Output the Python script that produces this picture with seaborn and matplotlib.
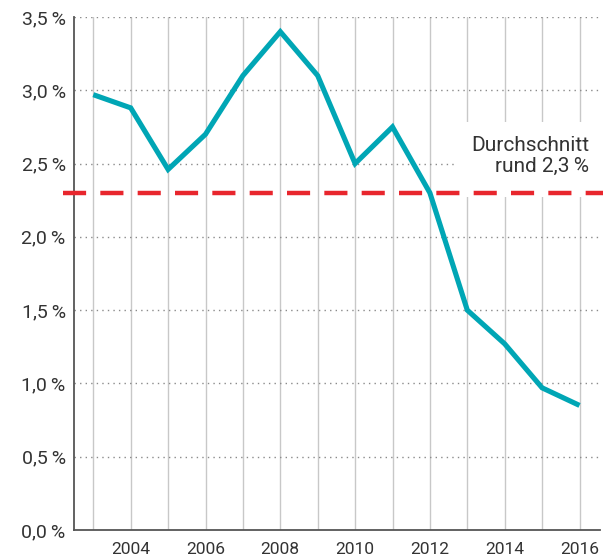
import matplotlib
matplotlib.use("Agg")
import matplotlib.pyplot as plt
from matplotlib.patches import Rectangle
import seaborn as sns
import pandas as pd

years = list(range(2003, 2017))
values = [2.97, 2.88, 2.46, 2.70, 3.10, 3.40, 3.10, 2.50, 2.75, 2.30, 1.50, 1.27, 0.97, 0.85]
average = 2.3
yticks = [0.0, 0.5, 1.0, 1.5, 2.0, 2.5, 3.0, 3.5]
ytick_labels = ["0,0\u2009%", "0,5\u2009%", "1,0\u2009%", "1,5\u2009%", "2,0\u2009%", "2,5\u2009%", "3,0\u2009%", "3,5\u2009%"]
xtick_labels = [str(y) if y % 2 == 0 else "" for y in years]
note = "Durchschnitt\nrund 2,3\u2009%"

sns.set_style("white")
plt.rcParams['font.family'] = ['Roboto', 'DejaVu Sans']

df = pd.DataFrame({"year": years, "value": values})

W, H = 603, 559
ax_l, ax_r, ax_t, ax_b = 74, 600, 17, 530
fig = plt.figure(figsize=(W / 100, H / 100), dpi=100)
ax = fig.add_axes([ax_l / W, 1 - ax_b / H, (ax_r - ax_l) / W, (ax_b - ax_t) / H])

text_col = "#333333"
grid_col = "#c8c8c8"

def ax_x(px):
    return (px - ax_l) / (ax_r - ax_l)

def ax_y(py):
    return (ax_b - py) / (ax_b - ax_t)

# vertical grid lines
for y in years:
    ax.axvline(y, color=grid_col, lw=1.0, zorder=0)
# horizontal dotted grid lines
for t in yticks[1:]:
    ax.axhline(t, color="#8a8a8a", lw=1.0, ls=(0, (1, 3)), zorder=0)

# white box behind the note
ax.add_patch(Rectangle((ax_x(455), ax_y(197)), ax_x(603) - ax_x(455), ax_y(122) - ax_y(197),
                       transform=ax.transAxes, facecolor="white", edgecolor="none",
                       zorder=1, clip_on=False))

sns.lineplot(data=df, x="year", y="value", ax=ax, color="#00a6b5", lw=3.7,
             solid_capstyle="butt", solid_joinstyle="miter", zorder=3)

x0 = 2003 + (63 - 93.3) / 37.4
x1 = 2003 + (603 - 93.3) / 37.4
ax.plot([x0, x1], [average, average], color="#e8262d", lw=3.2,
        ls=(0, (5.2, 3.2)), zorder=4, clip_on=False)

ax.text(ax_x(589), ax_y(136), note, transform=ax.transAxes, ha="right", va="top",
        fontsize=15, color=text_col, linespacing=1.15, zorder=5)

ax.set_xlim(2003 + (ax_l - 93.3) / 37.4, 2003 + (ax_r - 93.3) / 37.4)
ax.set_ylim(0, 3.5)
ax.set_xticks(years)
ax.set_xticklabels(xtick_labels, fontsize=12.5, color=text_col)
ax.set_yticks(yticks)
ax.set_yticklabels(ytick_labels, fontsize=14, color=text_col)
ax.tick_params(axis="x", length=6, width=1, color=grid_col, pad=3)
ax.tick_params(axis="y", length=0, pad=6)
ax.set_xlabel("")
ax.set_ylabel("")

for s in ["top", "right"]:
    ax.spines[s].set_visible(False)
for s in ["left", "bottom"]:
    ax.spines[s].set_color("#555555")
    ax.spines[s].set_linewidth(1.3)

fig.savefig("out.png", dpi=100)
